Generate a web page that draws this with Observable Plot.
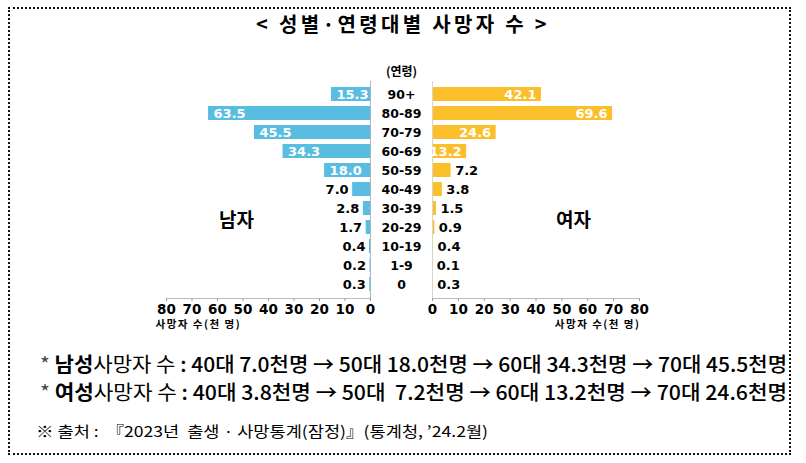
<!DOCTYPE html>
<html><head><meta charset="utf-8">
<script src="https://cdn.jsdelivr.net/npm/d3@7"></script>
<script src="https://cdn.jsdelivr.net/npm/@observablehq/plot@0.6"></script>
<style>
body{margin:0;background:#fff;}
#wrap{position:relative;width:806px;height:463px;background:#fff;overflow:hidden;font-family:"Noto Sans CJK KR",sans-serif;color:#000;}
.abs{position:absolute;white-space:pre;line-height:1;}
.fit{display:inline-block;transform-origin:left center;}
</style></head>
<body>
<div id="wrap">
  <div class="abs" style="left:8px;top:7px;width:783px;height:448px;border:2px dotted #111;box-sizing:border-box;"></div>
  <div class="abs" id="title" style="top:14px;left:0;width:806px;text-align:center;font-size:20px;font-weight:bold;"><span id="titleSpan" style="display:inline-block">&lt; 성별·연령대별 사망자 수 &gt;</span></div>
  <div id="leftPlot" class="abs" style="left:0;top:50px;"></div>
  <div id="rightPlot" class="abs" style="left:400px;top:50px;"></div>
  <div class="abs" id="maleLbl" style="left:219px;top:209px;font-size:19px;font-weight:bold;">남자</div>
  <div class="abs" id="femaleLbl" style="left:556px;top:209px;font-size:19px;font-weight:bold;">여자</div>
  <div class="abs" style="left:40px;top:354px;font-size:20px;"><span class="fit" id="note1" data-w="747"><span style="color:#444">*</span> <b>남성</b>사망자 수 <span style="font-weight:500">: 40대 7.0천명 → 50대 18.0천명 → 60대 34.3천명 → 70대 45.5천명</span></span></div>
  <div class="abs" style="left:40px;top:382px;font-size:20px;"><span class="fit" id="note2" data-w="747"><span style="color:#444">*</span> <b>여성</b>사망자 수 <span style="font-weight:500">: 40대 3.8천명 → 50대  7.2천명 → 60대 13.2천명 → 70대 24.6천명</span></span></div>
  <div class="abs" style="left:36px;top:423px;font-size:15px;"><span class="fit" id="note3" data-w="452">※ 출처 :  『2023년  출생 · 사망통계(잠정)』(통계청, ’24.2월)</span></div>
</div>
<script>
const ages = ["90+","80-89","70-79","60-69","50-59","40-49","30-39","20-29","10-19","1-9","0"];
const male = [15.3,63.5,45.5,34.3,18.0,7.0,2.8,1.7,0.4,0.2,0.3];
const female = [42.1,69.6,24.6,13.2,7.2,3.8,1.5,0.9,0.4,0.1,0.3];
const xTicks = [0,10,20,30,40,50,60,70,80];
const axisTitle = "사망자 수(천 명)";
const ageTitle = "(연령)";
const maleColor = "#58bde0";
const femaleColor = "#fcbf2c";

const rows = ages.map((a,i)=>({age:a, m:male[i], f:female[i]}));
const fmt = v => v.toFixed(1);
const common = {
  height: 290, marginTop: 31, marginBottom: 42,
  style: {fontFamily: "DejaVu Sans", fontWeight: "bold", fontSize: "13px", color: "#000", overflow: "visible", background: "transparent"}
};
const yOpt = {domain: ages, paddingInner: 0.24, paddingOuter: 0.12, axis: null};
const axisOpts = {ticks: xTicks, tickSize: 3, tickPadding: 3, label: null, fontSize: 13.5, fontWeight: "bold", stroke: "#999"};
const valueFont = 13;

const left = Plot.plot({
  ...common, width: 401, marginLeft: 166, marginRight: 31,
  x: {domain: [0,80], reverse: true},
  y: yOpt,
  marks: [
    Plot.barX(rows, {x: "m", y: "age", fill: maleColor}),
    Plot.ruleX([0], {stroke: "#a9b8c4"}),
    Plot.frame({anchor: "bottom", stroke: "#bbbbbb"}),
    Plot.axisX(axisOpts),
    Plot.text(rows, {filter: d => d.m >= 13, x: "m", y: "age", text: d => fmt(d.m), textAnchor: "start", dx: 5, fill: "white", fontSize: valueFont, fontWeight: "bold"}),
    Plot.text(rows, {filter: d => d.m < 13, x: "m", y: "age", text: d => fmt(d.m), textAnchor: "end", dx: -4, fill: "black", fontSize: valueFont, fontWeight: "bold"}),
    Plot.text(ages, {y: d => d, text: d => d, frameAnchor: "right", dx: 31, textAnchor: "middle", fontSize: 12.5, fontWeight: "bold"}),
    Plot.text([ageTitle], {frameAnchor: "top-right", dx: 31, dy: -14, textAnchor: "middle", fontSize: 12, fontWeight: "bold", fontFamily: "Noto Sans CJK KR"}),
    Plot.text([axisTitle], {frameAnchor: "bottom-left", dx: -11, dy: 29, textAnchor: "start", fontSize: 10.5, fontWeight: "bold", fontFamily: "Noto Sans CJK KR"})
  ]
});
const right = Plot.plot({
  ...common, width: 260, marginLeft: 32, marginRight: 21,
  x: {domain: [0,80]},
  y: yOpt,
  marks: [
    Plot.barX(rows, {x: "f", y: "age", fill: femaleColor}),
    Plot.ruleX([0], {stroke: "#d8d8c0"}),
    Plot.frame({anchor: "bottom", stroke: "#bbbbbb"}),
    Plot.axisX(axisOpts),
    Plot.text(rows, {filter: d => d.f >= 13, x: "f", y: "age", text: d => fmt(d.f), textAnchor: "end", dx: -5, fill: "white", fontSize: valueFont, fontWeight: "bold"}),
    Plot.text(rows, {filter: d => d.f < 13, x: "f", y: "age", text: d => fmt(d.f), textAnchor: "start", dx: 4, fill: "black", fontSize: valueFont, fontWeight: "bold"}),
    Plot.text([axisTitle], {frameAnchor: "bottom-right", dx: 1, dy: 29, textAnchor: "end", fontSize: 10.5, fontWeight: "bold", fontFamily: "Noto Sans CJK KR"})
  ]
});
document.getElementById("leftPlot").appendChild(left);
document.getElementById("rightPlot").appendChild(right);

for (const svg of [left, right]) {
  d3.select(svg).selectAll("text").filter(function(){ return this.textContent === axisTitle; }).attr("letter-spacing", "1.5px");
}
document.querySelectorAll(".fit").forEach(el => {
  const w = el.getBoundingClientRect().width;
  const target = +el.dataset.w;
  el.style.transform = `scaleX(${target / w})`;
});
const ts = document.getElementById("titleSpan");
const tw = ts.getBoundingClientRect().width;
const n = ts.textContent.length;
ts.style.letterSpacing = ((294 - tw) / n) + "px";
</script>
</body></html>
